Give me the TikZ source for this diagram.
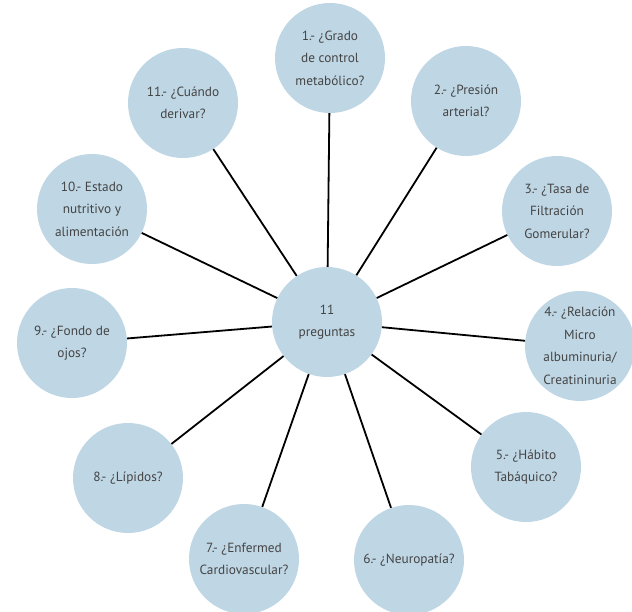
\documentclass[tikz,border=0pt]{standalone}
\usepackage{fontspec}
\setmainfont{PT Sans}
\definecolor{bubble}{HTML}{BFD6E4}
\definecolor{labeltext}{HTML}{444444}
\begin{document}
\begin{tikzpicture}[x=1pt,y=-1pt,
  q/.style={circle,fill=bubble,minimum size=110pt,inner sep=0pt,align=center,
    text=labeltext,font=\fontsize{13.3}{22.5}\selectfont},
  spoke/.style={line width=1.8pt,black}]
\useasboundingbox (0,0) rectangle (632,612);
\node[q] (c)   at (327,322) {11\\preguntas};
\node[q] (n1)  at (330,58)  {1.- ¿Grado\\de control\\metabólico?};
\node[q] (n2)  at (466,101) {2.- ¿Presión\\arterial?};
\node[q] (n3)  at (557,211) {3.- ¿Tasa de\\Filtración\\Gomerular?};
\node[q] (n4)  at (580,346) {4.- ¿Relación\\Micro\\albuminuria/\\Creatininuria};
\node[q] (n5)  at (526,467) {5.- ¿Hábito\\Tabáquico?};
\node[q] (n6)  at (409,560) {6.- ¿Neuropatía?};
\node[q] (n7)  at (244,559) {7.- ¿Enfermed\\Cardiovascular?};
\node[q] (n8)  at (128,478) {8.- ¿Lípidos?};
\node[q] (n9)  at (72,343)  {9.- ¿Fondo de\\ojos?};
\node[q] (n10) at (92,209)  {10.- Estado\\nutritivo y\\alimentación};
\node[q] (n11) at (183,103) {11.- ¿Cuándo\\derivar?};
\foreach \k in {1,...,11} \draw[spoke] (c) -- (n\k);
\end{tikzpicture}
\end{document}
